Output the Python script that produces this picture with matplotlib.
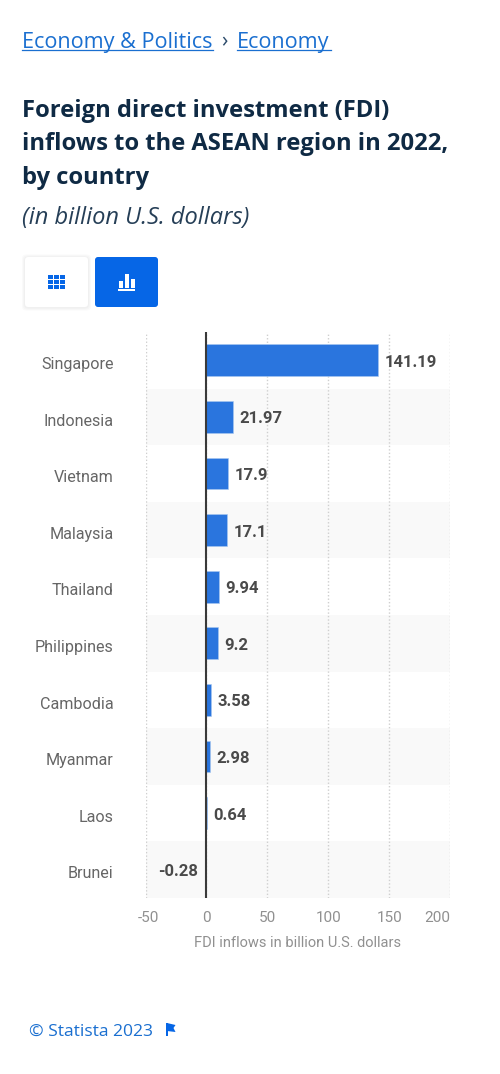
import matplotlib
matplotlib.use("Agg")
import matplotlib.pyplot as plt
from matplotlib.patches import FancyBboxPatch, Rectangle, Polygon
from matplotlib.transforms import ScaledTranslation

countries = ["Singapore", "Indonesia", "Vietnam", "Malaysia", "Thailand",
             "Philippines", "Cambodia", "Myanmar", "Laos", "Brunei"]
values = [141.19, 21.97, 17.9, 17.1, 9.94, 9.2, 3.58, 2.98, 0.64, -0.28]
value_labels = ["141.19", "21.97", "17.9", "17.1", "9.94", "9.2", "3.58", "2.98", "0.64", "-0.28"]
x_ticks = [-50, 0, 50, 100, 150, 200]

W, H = 500, 1074
BLUE = "#1a6fd0"
NAVY = "#0f2a44"

fig = plt.figure(figsize=(W / 100, H / 100), dpi=100)

# pixel overlay for the page parts around the chart
page = fig.add_axes([0, 0, 1, 1])
page.set_xlim(0, W)
page.set_ylim(H, 0)
page.axis("off")

# chart
left, right, top, bottom = 145.5, 450, 332, 898
ax = fig.add_axes([left / W, 1 - bottom / H, (right - left) / W, (bottom - top) / H])
ax.patch.set_alpha(0)
ax.set_xlim(-50, 200)
ax.set_ylim(len(countries) - 0.5, -0.5)

for i in range(len(countries)):
    if i % 2 == 1:
        ax.axhspan(i - 0.5, i + 0.5, color="#f9f9f9", lw=0, zorder=0)

ax.set_xticks(x_ticks)
ax.grid(axis="x", color="#cfcfcf", linestyle=(0, (1, 1.5)), linewidth=1, zorder=1)
ax.barh(range(len(countries)), values, height=0.565, color="#2a75de",
        edgecolor="#a9c8f0", linewidth=0.4, zorder=2)
ax.axvline(0, color="#3a3a3a", linewidth=1.5, zorder=3)

for i, (v, lab) in enumerate(zip(values, value_labels)):
    off = 4.6 if v >= 0 else -5.5
    ax.annotate(lab, (v, i), xytext=(off, -1.5), textcoords="offset points",
                ha="left" if v >= 0 else "right", va="center",
                family="Roboto", fontweight="bold", fontsize=12, color="#4a4a4a", zorder=4)

for s in ax.spines.values():
    s.set_visible(False)
ax.set_yticks(range(len(countries)))
ax.set_yticklabels(countries, family="Roboto", fontsize=11.6, color="#666666")
ax.tick_params(axis="y", length=0, pad=23)
for lab in ax.get_yticklabels():
    lab.set_transform(lab.get_transform() + ScaledTranslation(0, -2 / 72, fig.dpi_scale_trans))
ax.set_xticklabels([])
ax.tick_params(axis="x", length=0)

# x tick labels sit slightly shifted at both ends, like the original
for t in x_ticks:
    ha = "center"
    x = t
    if t == -50:
        x = -48
    if t == 200:
        ha = "right"
    px = left + (x + 50) / 250 * (right - left)
    page.text(px + 0.5, 918.5, str(t), ha=ha, va="center",
              family="Roboto", fontsize=11, color="#909090")
page.text(298, 943, "FDI inflows in billion U.S. dollars", ha="center", va="center",
          family="Roboto", fontsize=10.5, color="#909090")

# breadcrumb
page.text(22, 48, "Economy & Politics", family="Open Sans", fontsize=15.55, color=BLUE, va="baseline")
page.plot([22, 213], [50, 50], color=BLUE, lw=0.9)
page.text(224, 47, "›", family="Open Sans", fontsize=15, color="#2a4a6a", ha="center", va="baseline")
page.text(237, 48, "Economy", family="Open Sans", fontsize=15.55, color=BLUE, va="baseline")
page.plot([237, 331], [50, 50], color=BLUE, lw=0.9)

# title
for line, y in zip(["Foreign direct investment (FDI)", "inflows to the ASEAN region in 2022,", "by country"],
                   [117, 150.5, 183.5]):
    page.text(22, y, line, family="Open Sans", fontweight="bold", fontsize=17.15, color=NAVY, va="baseline")
page.text(22, 224, "(in billion U.S. dollars)", family="Open Sans", style="italic",
          fontsize=17, color="#263f57", va="baseline")

# buttons, the soft shadow is a stack of faint boxes
for grow in [3, 2, 1]:
    page.add_patch(FancyBboxPatch((25 - grow, 257 - grow + 0.5), 63 + 2 * grow, 50 + 2 * grow,
                                  boxstyle="round,pad=0,rounding_size=4",
                                  fc="#000000", ec="none", alpha=0.018))
page.add_patch(FancyBboxPatch((25, 257), 63, 50, boxstyle="round,pad=0,rounding_size=3",
                              fc="white", ec="none"))
page.add_patch(FancyBboxPatch((95, 257), 63, 50, boxstyle="round,pad=0,rounding_size=3",
                              fc="#0666e6", ec="none"))
for r in range(3):
    for c in range(3):
        page.add_patch(Rectangle((48 + c * 6.2, 274.5 + r * 5.2), 5, 4.3, fc="#0666e6", ec="none"))
for x0, h in [(118.5, 6.5), (124.5, 14), (130.5, 9)]:
    page.add_patch(Rectangle((x0, 287.5 - h), 4.8, h, fc="white", ec="none"))
page.add_patch(Rectangle((118, 289), 17, 1.5, fc="white", ec="none"))

# footer
page.text(29, 1035.5, "© Statista 2023", family="Open Sans", fontsize=12.6, color=BLUE, va="baseline")
page.add_patch(Rectangle((165.5, 1022.5), 2, 13.5, fc="#0666e6", ec="none"))
page.add_patch(Polygon([(167, 1023), (175.5, 1025), (173.5, 1028), (175.5, 1032), (167, 1031)],
                       fc="#0666e6", ec="none"))

fig.savefig("out.png", dpi=100, facecolor="white")
